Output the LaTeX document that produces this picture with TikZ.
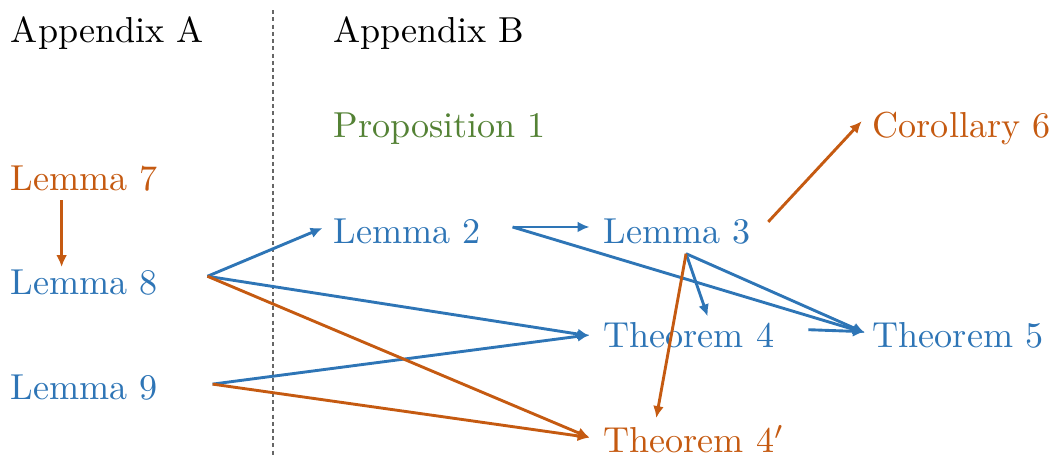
\documentclass[tikz,border=0pt]{standalone}
\usepackage{xcolor}
\usepackage{tikz}
\usetikzlibrary{arrows.meta, calc}

\definecolor{depblue}{RGB}{46,117,182}
\definecolor{deporange}{RGB}{197,90,17}
\definecolor{depgreen}{RGB}{84,130,53}

\tikzset{
    res/.style={anchor=base west, inner sep=0pt},
    dep/.style={-{Latex[length=3.3pt, width=3pt]}, line width=0.8pt},
}

\begin{document}
\begin{tikzpicture}
    \useasboundingbox (0,0) rectangle (10.243,4.44);

    % Separator
    \draw[dash pattern=on 1.1pt off 0.9pt, black!60, line width=0.45pt] (2.66,4.34) -- (2.66,0);

    % Headers
    \node[res] (appA) at (0.10,4.03) {Appendix A};
    \node[res] (appB) at (3.24,4.03) {Appendix B};

    % Results
    \node[res, text=depgreen] (prop1) at (3.24,3.10) {Proposition 1};
    \node[res, text=deporange] (lem7) at (0.10,2.59) {Lemma 7};
    \node[res, text=depblue] (lem8) at (0.10,1.57) {Lemma 8};
    \node[res, text=depblue] (lem9) at (0.10,0.55) {Lemma 9};
    \node[res, text=depblue] (lem2) at (3.24,2.07) {Lemma 2};
    \node[res, text=depblue] (lem3) at (5.87,2.07) {Lemma 3};
    \node[res, text=deporange] (cor6) at (8.49,3.10) {Corollary 6};
    \node[res, text=depblue] (thm4) at (5.87,1.06) {Theorem 4};
    \node[res, text=depblue] (thm5) at (8.49,1.06) {Theorem 5};
    \node[res, text=deporange] (thm4p) at (5.87,0.03) {Theorem 4$'$};

    % Blue dependencies
    \begin{scope}[dep, depblue]
        \draw ([shift={(1.92,0.18)}]lem8.base west) -- ([shift={(-0.10,0.15)}]lem2.base west);
        \draw ([shift={(1.92,0.18)}]lem8.base west) -- ([shift={(-0.13,0.11)}]thm4.base west);
        \draw ([shift={(1.97,0.15)}]lem9.base west) -- ([shift={(-0.13,0.12)}]thm4.base west);
        \draw ([shift={(1.75,0.16)}]lem2.base west) -- ([shift={(-0.13,0.16)}]lem3.base west);
        \draw ([shift={(1.75,0.16)}]lem2.base west) -- ([shift={(-0.07,0.14)}]thm5.base west);
        \draw ([shift={(0.81,-0.10)}]lem3.base west) -- ([shift={(1.02,0.30)}]thm4.base west);
        \draw ([shift={(0.81,-0.10)}]lem3.base west) -- ([shift={(-0.07,0.14)}]thm5.base west);
        \draw ([shift={(2.00,0.17)}]thm4.base west) -- ([shift={(-0.07,0.15)}]thm5.base west);
    \end{scope}

    % Orange dependencies
    \begin{scope}[dep, deporange]
        \draw ([shift={(0.50,-0.10)}]lem7.base west) -- ([shift={(0.50,0.27)}]lem8.base west);
        \draw ([shift={(1.92,0.18)}]lem8.base west) -- ([shift={(-0.13,0.15)}]thm4p.base west);
        \draw ([shift={(1.97,0.15)}]lem9.base west) -- ([shift={(-0.13,0.15)}]thm4p.base west);
        \draw ([shift={(0.81,-0.10)}]lem3.base west) -- ([shift={(0.52,0.34)}]thm4p.base west);
        \draw ([shift={(1.61,0.21)}]lem3.base west) -- ([shift={(-0.10,0.16)}]cor6.base west);
    \end{scope}
\end{tikzpicture}
\end{document}
